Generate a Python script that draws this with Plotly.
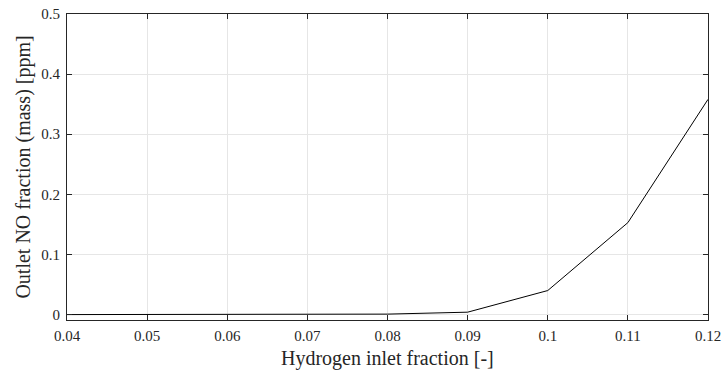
import plotly.graph_objects as go

h2_fraction = [0.04, 0.05, 0.06, 0.07, 0.08, 0.09, 0.10, 0.11, 0.12]
no_ppm = [0.0, 0.0, 0.0, 0.0, 0.0008, 0.004, 0.040, 0.153, 0.358]
x_ticks = [0.04, 0.05, 0.06, 0.07, 0.08, 0.09, 0.1, 0.11, 0.12]
x_tick_labels = ["0.04", "0.05", "0.06", "0.07", "0.08", "0.09", "0.1", "0.11", "0.12"]
y_ticks = [0, 0.1, 0.2, 0.3, 0.4, 0.5]
y_tick_labels = ["0", "0.1", "0.2", "0.3", "0.4", "0.5"]

font_family = "Liberation Serif, DejaVu Serif, serif"
axis_col = "#262626"

fig = go.Figure()
fig.add_trace(go.Scatter(x=h2_fraction, y=no_ppm, mode="lines",
                         line=dict(color="#000000", width=1), showlegend=False))

common = dict(showline=True, linecolor=axis_col, linewidth=1, mirror="allticks",
              ticks="inside", ticklen=5, tickcolor=axis_col, tickwidth=1,
              showgrid=True, gridcolor="#e6e6e6", gridwidth=1, zeroline=False,
              automargin=False,
              tickfont=dict(family=font_family, size=15, color=axis_col))

fig.update_xaxes(range=[0.04, 0.12], tickvals=x_ticks, ticktext=x_tick_labels,
                 ticklabelstandoff=2, **common)
fig.update_yaxes(range=[-0.009, 0.5], tickvals=y_ticks, ticktext=y_tick_labels,
                 ticklabelstandoff=3, **common)

fig.add_annotation(text="Hydrogen inlet fraction [-]", xref="paper", yref="paper",
                   x=0.5, y=-0.125, xanchor="center", yanchor="middle", showarrow=False,
                   font=dict(family=font_family, size=20, color=axis_col))
fig.add_annotation(text="Outlet NO fraction (mass) [ppm]", xref="paper", yref="paper",
                   x=-0.0693, y=0.5, xanchor="center", yanchor="middle", showarrow=False,
                   textangle=-90,
                   font=dict(family=font_family, size=20, color=axis_col))

fig.update_layout(width=725, height=375, plot_bgcolor="white", paper_bgcolor="white",
                  margin=dict(l=66.5, r=16.5, t=13.5, b=54.5))
fig.write_html("out.html", config={"displayModeBar": False},
               post_script="document.body.style.margin='0';")
